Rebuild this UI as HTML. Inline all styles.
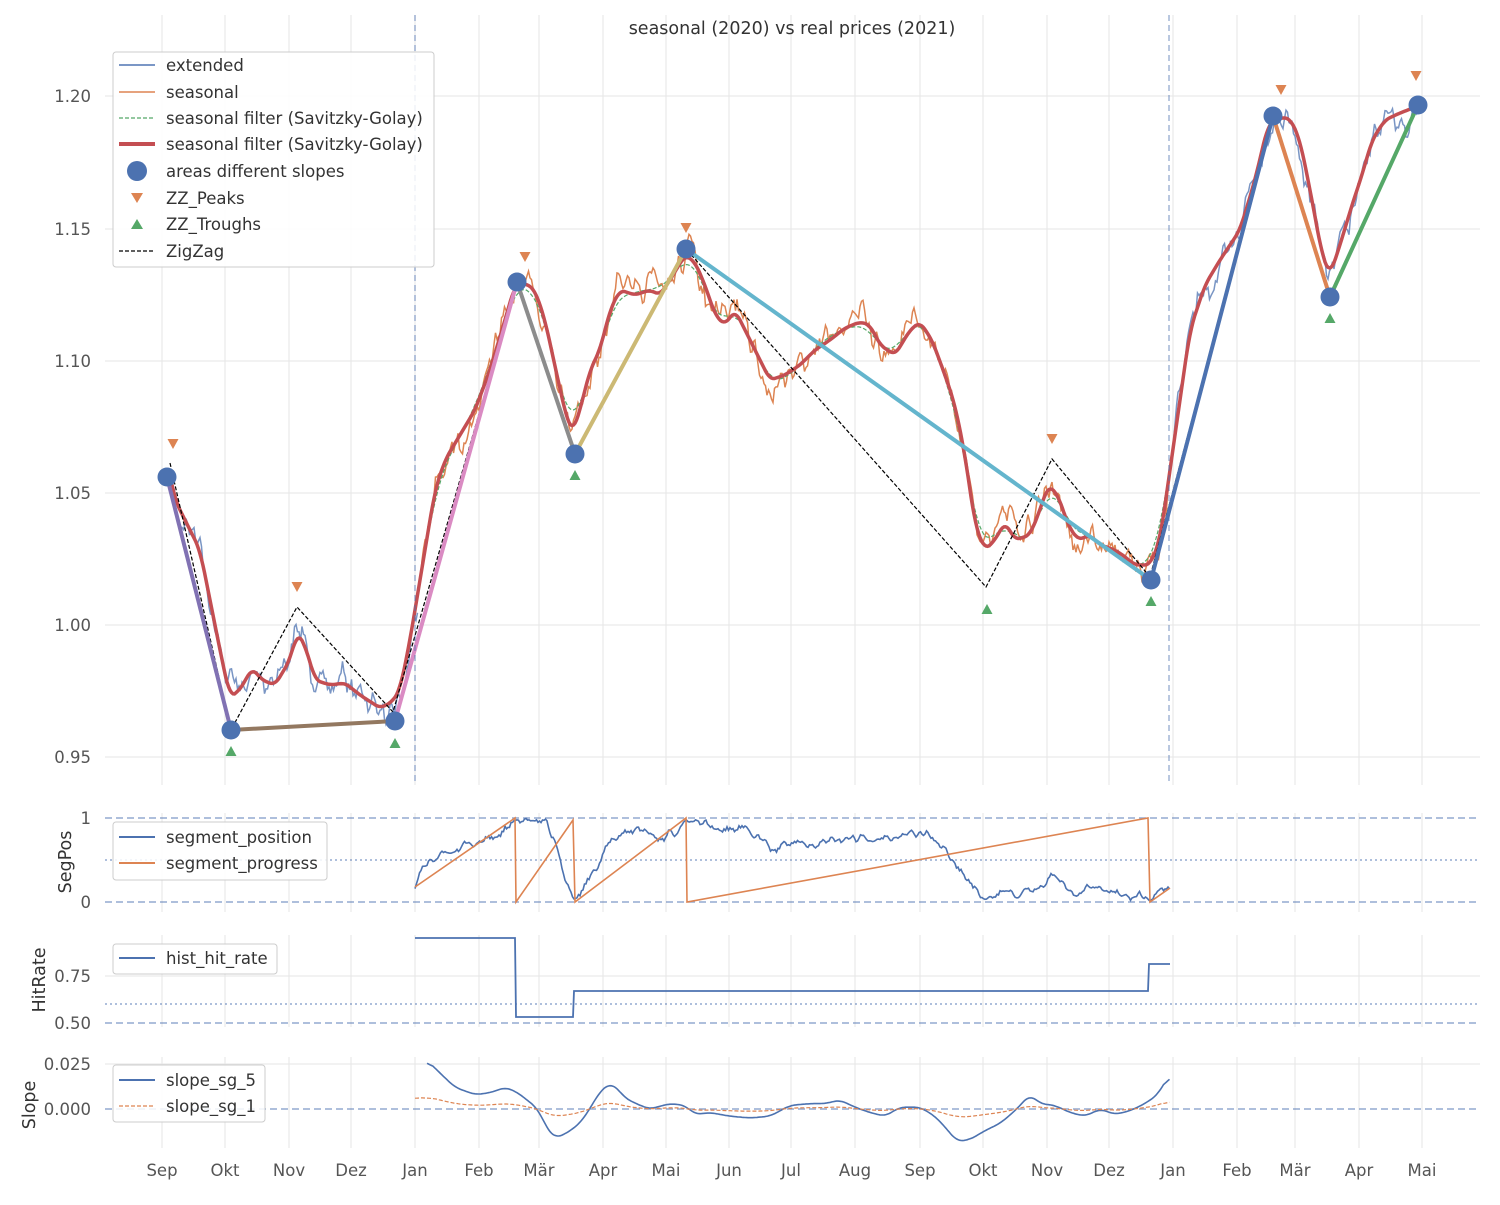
<!DOCTYPE html>
<html><head><meta charset="utf-8"><style>
body{margin:0;background:#fff}
text{font-family:"DejaVu Sans","Liberation Sans",sans-serif;}
</style></head><body>
<svg id="s" width="1500" height="1200" xmlns="http://www.w3.org/2000/svg">
<rect width="1500" height="1200" fill="#fff"/>
<g id="grid" stroke="#e6e6e6" stroke-width="1"></g>
<g id="data"></g>
<g id="labels" fill="#555" font-size="16.5"></g>
<text x="792" y="34" text-anchor="middle" font-size="17.5" fill="#333">seasonal (2020) vs real prices (2021)</text>
</svg>
<script>
const NS="http://www.w3.org/2000/svg";
const S=document.getElementById('s'),G=document.getElementById('grid'),D=document.getElementById('data'),L=document.getElementById('labels');
function el(p,t,a,txt){const e=document.createElementNS(NS,t);for(const k in a)e.setAttribute(k,a[k]);if(txt!=null)e.textContent=txt;p.appendChild(e);return e;}
let seed=7;function rnd(){seed=(seed*16807)%2147483647;return seed/2147483647;}
const months=[[162,'Sep'],[225,'Okt'],[289,'Nov'],[351,'Dez'],[415,'Jan'],[479,'Feb'],[539,'Mär'],[603,'Apr'],[666,'Mai'],[729,'Jun'],[791,'Jul'],[855,'Aug'],[920,'Sep'],[983,'Okt'],[1047,'Nov'],[1109,'Dez'],[1173,'Jan'],[1237,'Feb'],[1295,'Mär'],[1359,'Apr'],[1422,'Mai']];
const axes=[[15,785],[813,912],[935,1027],[1057,1148]];
for(const [y0,y1] of axes)for(const [x] of months)el(G,'line',{x1:x,x2:x,y1:y0,y2:y1});
for(const y of [96,229,361,493,625,757])el(G,'line',{x1:105,x2:1480,y1:y,y2:y});
for(const y of [976,1064])el(G,'line',{x1:105,x2:1480,y1:y,y2:y});
for(const [x,t] of months)el(L,'text',{x:x,y:1176,'text-anchor':'middle'},t);
[[96,'1.20'],[229,'1.15'],[361,'1.10'],[493,'1.05'],[625,'1.00'],[757,'0.95'],[818,'1'],[902,'0'],[976,'0.75'],[1023,'0.50'],[1064,'0.025'],[1109,'0.000']].forEach(([y,t])=>el(L,'text',{x:91,y:y+6,'text-anchor':'end'},t));
[[71,862,'SegPos'],[45,980,'HitRate'],[35,1105,'Slope']].forEach(([x,y,t])=>el(L,'text',{x:x,y:y,'text-anchor':'middle',transform:`rotate(-90 ${x} ${y})`,fill:'#333',style:'font-size:17.5px'},t));
function interp(pts,x){for(let i=0;i<pts.length-1;i++){if(x<=pts[i+1][0]){const [a,b]=pts[i],[c,d]=pts[i+1];return b+(d-b)*(x-a)/(c-a||1);}}return pts[pts.length-1][1];}
function smooth(a,k){return a.map((v,i)=>{let s=0,n=0;for(let j=Math.max(0,i-k);j<=Math.min(a.length-1,i+k);j++){s+=a[j];n++;}return s/n;});}
function path(xs,ys,a){let d='';xs.forEach((x,i)=>{d+=(i?'L':'M')+x.toFixed(1)+' '+ys[i].toFixed(1);});return el(D,'path',Object.assign({d:d,fill:'none'},a));}
function line(pts,a){return path(pts.map(p=>p[0]),pts.map(p=>p[1]),a);}
const rk=[[167,462],[175,500],[190,530],[200,550],[210,600],[222,660],[230,697],[240,690],[252,668],[262,680],[275,685],[290,660],[297,632],[305,645],[315,680],[330,685],[345,683],[360,695],[380,708],[392,702],[400,690],[410,640],[420,580],[435,490],[445,460],[460,435],[475,410],[490,370],[505,320],[515,285],[525,283],[535,290],[545,320],[558,380],[567,420],[573,432],[580,410],[590,370],[600,350],[610,310],[620,290],[635,295],[650,290],[660,295],[670,280],[685,255],[695,262],[705,285],[715,315],[725,325],[735,310],[745,330],[755,350],[770,380],[785,375],[800,365],[815,350],[830,340],[845,328],[860,322],[870,325],[880,345],[895,355],[910,330],[920,322],[932,340],[945,375],[955,405],[965,455],[975,525],[985,550],[995,540],[1005,522],[1015,540],[1030,535],[1040,510],[1048,485],[1058,495],[1068,525],[1078,540],[1090,535],[1100,545],[1110,548],[1120,553],[1135,565],[1150,565],[1160,540],[1170,470],[1180,400],[1190,330],[1205,285],[1220,260],[1240,230],[1255,180],[1268,125],[1278,118],[1290,118],[1300,140],[1312,200],[1322,255],[1330,275],[1340,245],[1352,205],[1362,175],[1372,140],[1385,120],[1400,113],[1418,106]];
const xs=[],base=[];for(let x=167;x<=1418;x+=1.5){xs.push(x);base.push(interp(rk,x));}
const red=smooth(base,3);
function noisy(amp,k){let n=xs.map(()=> (rnd()-0.5)*2*amp);n=smooth(n,k);let m=xs.map(()=> (rnd()-0.5)*2*amp);m=smooth(m,6);return red.map((v,i)=>v+n[i]*2.2+m[i]*4);}
const blue=noisy(10,1),orng=noisy(10,1);seed=99;
const green=smooth(base,8).map((v,i)=>v+Math.sin(i/9)*3);
function sub(arr,a,b){const X=[],Y=[];xs.forEach((x,i)=>{if(x>=a&&x<=b){X.push(x);Y.push(arr[i]);}});return [X,Y];}
let t;
t=sub(blue,160,418);path(t[0],t[1],{stroke:'#4c72b0','stroke-opacity':0.75,'stroke-width':1.5});
t=sub(blue,1160,1420);path(t[0],t[1],{stroke:'#4c72b0','stroke-opacity':0.75,'stroke-width':1.5});
t=sub(orng,415,1170);path(t[0],t[1],{stroke:'#dd8452','stroke-width':1.5});
t=sub(green,415,1170);path(t[0],t[1],{stroke:'#55a868','stroke-width':1.2,'stroke-dasharray':'4,2'});
path(xs,red,{stroke:'#c44e52','stroke-width':3.5});
line([[170,463],[231,730],[297,607],[393,712],[517,282],[575,452],[686,249],[986,587],[1052,459],[1150,577],[1273,116],[1330,294],[1418,104]],{stroke:'#000','stroke-width':1.2,'stroke-dasharray':'4,2'});
const C=[[167,477],[231,730],[395,721],[517,282],[575,454],[686,249],[1151,580],[1273,116],[1330,297],[1418,105]];
const cols=['#8172b3','#937860','#da8bc3','#8c8c8c','#ccb974','#64b5cd','#4c72b0','#dd8452','#55a868'];
for(let i=0;i<9;i++)line([C[i],C[i+1]],{stroke:cols[i],'stroke-width':4});
C.forEach(([x,y])=>el(D,'circle',{cx:x,cy:y,r:9.5,fill:'#4c72b0'}));
[[173,444],[297,587],[525,257],[686,228],[1052,439],[1281,90],[1416,76]].forEach(([x,y])=>el(D,'path',{d:`M${x-5.5} ${y-5}L${x+5.5} ${y-5}L${x} ${y+5}Z`,fill:'#dd8452'}));
[[231,751],[395,743],[575,475],[987,609],[1151,601],[1330,318]].forEach(([x,y])=>el(D,'path',{d:`M${x-5.5} ${y+5}L${x+5.5} ${y+5}L${x} ${y-5}Z`,fill:'#55a868'}));
for(const x of [415,1169])el(D,'line',{x1:x,x2:x,y1:15,y2:785,stroke:'#4c72b0','stroke-opacity':0.6,'stroke-width':1.3,'stroke-dasharray':'6,4'});
function hl(y,dash){el(D,'line',{x1:105,x2:1480,y1:y,y2:y,stroke:'#4c72b0','stroke-opacity':0.6,'stroke-width':1.5,'stroke-dasharray':dash});}
hl(818,'7,4');hl(902,'7,4');hl(860,'2,3');hl(1023,'7,4');hl(1004,'2,3');hl(1109,'7,4');
const sp=[[415,0.22],[425,0.45],[440,0.55],[460,0.65],[480,0.72],[500,0.8],[515,0.95],[525,1],[545,0.95],[555,0.7],[565,0.3],[575,0.0],[585,0.2],[595,0.4],[610,0.7],[625,0.85],[645,0.85],[660,0.75],[675,0.85],[686,1],[700,0.95],[720,0.85],[740,0.88],[760,0.75],[775,0.6],[790,0.75],[810,0.7],[830,0.72],[850,0.78],[870,0.72],[890,0.8],[910,0.82],[930,0.8],[945,0.6],[960,0.4],[975,0.15],[987,0.0],[1000,0.12],[1020,0.1],[1040,0.12],[1050,0.35],[1060,0.25],[1070,0.1],[1090,0.18],[1110,0.12],[1130,0.08],[1150,0.03],[1160,0.1],[1170,0.22]];
const sx=[],sy=[];for(let x=415;x<=1170;x+=1.5){sx.push(x);sy.push(902-84*Math.max(0,Math.min(1,interp(sp,x)+(rnd()-0.5)*0.16)));}
path(sx,smooth(sy,1),{stroke:'#4c72b0','stroke-width':1.6});
line([[415,887],[515,818],[516,902],[573,820],[575,902],[686,818],[687,902],[1148,818],[1150,902],[1170,888]],{stroke:'#dd8452','stroke-width':1.6});
line([[415,938],[515,938],[516,1017],[573,1017],[574,991],[1148,991],[1149,964],[1170,964]],{stroke:'#4c72b0','stroke-width':1.8});
const s5=[[427,0.027],[440,0.02],[455,0.012],[475,0.008],[490,0.009],[505,0.012],[515,0.01],[525,0.006],[538,0],[548,-0.012],[555,-0.016],[565,-0.014],[580,-0.008],[592,0.002],[600,0.01],[610,0.014],[615,0.013],[625,0.006],[640,0.002],[650,0],[670,0.003],[685,0.002],[695,-0.003],[710,-0.002],[730,-0.004],[750,-0.005],[770,-0.004],[790,0.002],[810,0.003],[825,0.003],[840,0.005],[855,0.001],[870,-0.002],[885,-0.004],[900,0.001],[920,0.001],[935,-0.004],[945,-0.01],[957,-0.018],[970,-0.017],[985,-0.012],[1000,-0.008],[1015,-0.001],[1030,0.008],[1040,0.003],[1055,0.002],[1070,-0.002],[1085,-0.004],[1100,0],[1115,-0.003],[1130,-0.001],[1145,0.003],[1158,0.008],[1170,0.02]];
const x5=[],y5=[];for(let x=427;x<=1170;x+=1.5){const v=interp(s5,x);x5.push(x);y5.push(1109-1800*v);}
path(x5,smooth(y5,4),{stroke:'#4c72b0','stroke-width':1.6});
const x1=[],yy1=[];for(let x=415;x<=1170;x+=1.5){let v=interp(s5,Math.max(427,x))*0.25;if(x<427)v=0.006;x1.push(x);yy1.push(1109-1800*v);}
path(x1,smooth(yy1,6),{stroke:'#dd8452','stroke-width':1.2,'stroke-dasharray':'4,2'});
function legend(x,y,w,h,items){el(D,'rect',{x:x,y:y,width:w,height:h,rx:3,fill:'#fff','fill-opacity':0.85,stroke:'#ccc'});
items.forEach(([yy,type,t])=>{const a=x+6,b=x+42;
if(type[0]=='l')el(D,'line',{x1:a,x2:b,y1:yy,y2:yy,stroke:type[1],'stroke-width':type[2],'stroke-dasharray':type[3]||''});
else if(type[0]=='c')el(D,'circle',{cx:x+24,cy:yy,r:10,fill:'#4c72b0'});
else if(type[0]=='v')el(D,'path',{d:`M${x+18} ${yy-5}L${x+30} ${yy-5}L${x+24} ${yy+5}Z`,fill:'#dd8452'});
else el(D,'path',{d:`M${x+18} ${yy+5}L${x+30} ${yy+5}L${x+24} ${yy-5}Z`,fill:'#55a868'});
el(D,'text',{x:x+53,y:yy+6,'font-size':16.5,fill:'#333'},t);});}
legend(113,52,321,215,[[65,['l','#7b97c6',2],'extended'],[92,['l','#dd8452',1.5],'seasonal'],[118,['l','#55a868',1.2,'4,2'],'seasonal filter (Savitzky-Golay)'],[144,['l','#c44e52',4],'seasonal filter (Savitzky-Golay)'],[171,['c'],'areas different slopes'],[198,['v'],'ZZ_Peaks'],[224,['^'],'ZZ_Troughs'],[251,['l','#000',1.2,'4,2'],'ZigZag']]);
legend(113,822,214,58,[[837,['l','#4c72b0',2],'segment_position'],[863,['l','#dd8452',2],'segment_progress']]);
legend(113,944,164,30,[[958,['l','#4c72b0',2],'hist_hit_rate']]);
legend(113,1065,152,57,[[1080,['l','#4c72b0',2],'slope_sg_5'],[1106,['l','#dd8452',1.2,'4,2'],'slope_sg_1']]);
</script>
</body></html>
